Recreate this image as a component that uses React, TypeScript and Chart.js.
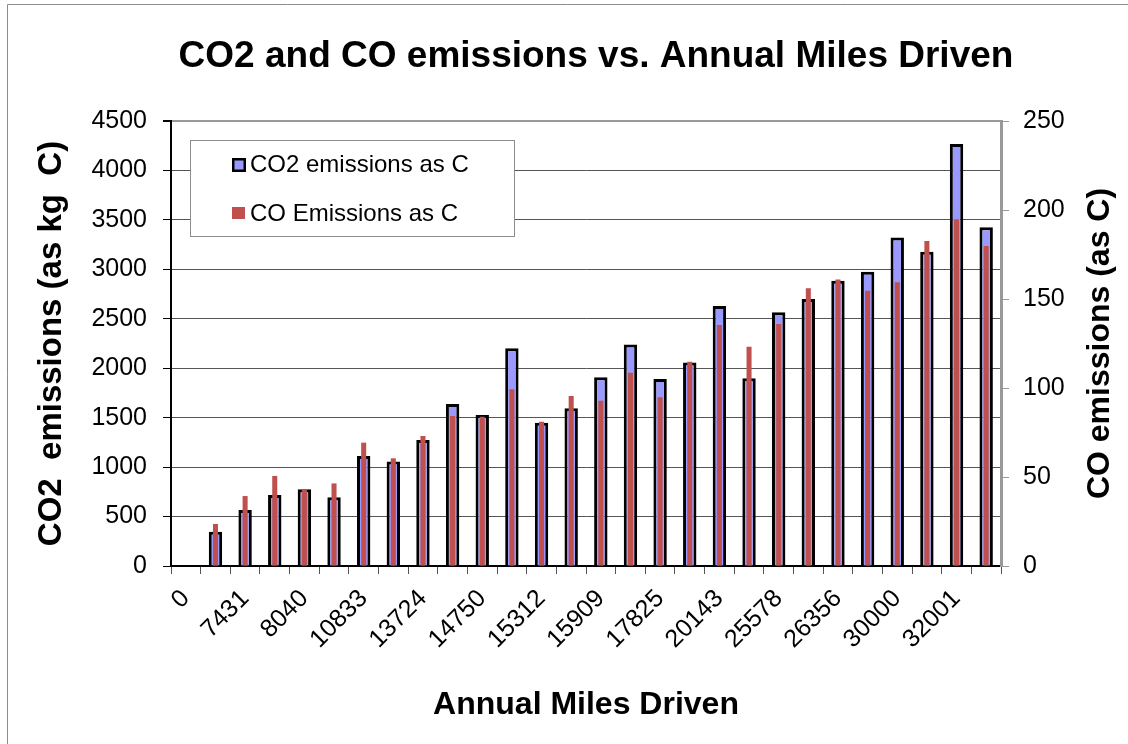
import React, { useEffect, useRef } from "react";
import { Chart, registerables } from "chart.js";

Chart.register(...registerables);

// ---- data ----
const categories = [
  "0", "", "7431", "", "8040", "", "10833", "", "13724", "", "14750", "", "15312", "", "15909", "",
  "17825", "", "20143", "", "25578", "", "26356", "", "30000", "", "32001", "",
];
const co2Values = [
  0, 347, 566, 718, 775, 694, 1112, 1058, 1274, 1638, 1527, 2201, 1449, 1594, 1908, 2241,
  1891, 2059, 2629, 1898, 2565, 2700, 2885, 2976, 3323, 3178, 4267, 3425,
];
const coValues = [
  0, 23.6, 39.3, 50.6, 42.7, 46.4, 69.3, 60.5, 73, 84.3, 83.9, 99.3, 81.1, 95.5, 92.9, 108.6,
  94.8, 114.8, 135.4, 123.2, 136, 156, 161, 154.7, 159.4, 182.6, 194.8, 179.8,
];
const leftAxisMax = 4500;
const leftAxisStep = 500;
const rightAxisMax = 250;
const rightAxisStep = 50;

const chartTitle = "CO2 and CO emissions vs. Annual Miles Driven";
const xTitle = "Annual Miles Driven";
const leftTitle = "CO2  emissions (as kg  C)";
const rightTitle = "CO emissions (as C)";
const co2Label = "CO2 emissions as C";
const coLabel = "CO Emissions as C";

const FONT = '"Liberation Sans", Arial, Helvetica, sans-serif';
const BLUE = "#9999FF";
const RED = "#C0504D";

const decorPlugin = {
  id: "decor",
  beforeDraw(chart: any) {
    const ctx = chart.ctx;
    ctx.save();
    ctx.fillStyle = "#ffffff";
    ctx.fillRect(0, 0, chart.width, chart.height);
    ctx.strokeStyle = "#8c8c8c";
    ctx.lineWidth = 1;
    ctx.beginPath();
    ctx.moveTo(7.5, chart.height);
    ctx.lineTo(7.5, 4.5);
    ctx.lineTo(chart.width, 4.5);
    ctx.stroke();
    ctx.restore();
  },
  afterDraw(chart: any) {
    const ctx = chart.ctx;
    const area = chart.chartArea;
    ctx.save();
    // main title
    ctx.fillStyle = "#000";
    ctx.font = `bold 37px ${FONT}`;
    ctx.textAlign = "center";
    ctx.textBaseline = "alphabetic";
    ctx.fillText(chartTitle, 596, 67);

    // right axis title (reads bottom to top)
    ctx.save();
    ctx.translate(1100, (area.top + area.bottom) / 2);
    ctx.rotate(-Math.PI / 2);
    ctx.font = `bold 32px ${FONT}`;
    ctx.textAlign = "center";
    ctx.textBaseline = "middle";
    ctx.fillText(rightTitle, 0, 0);
    ctx.restore();

    // legend box
    const lx = 190.5, ly = 140.5, lw = 324, lh = 96;
    ctx.fillStyle = "#fff";
    ctx.fillRect(lx, ly, lw, lh);
    ctx.strokeStyle = "#8c8c8c";
    ctx.lineWidth = 1;
    ctx.strokeRect(lx, ly, lw, lh);
    // CO2 marker
    ctx.fillStyle = "#000";
    ctx.fillRect(232, 158, 14, 14);
    ctx.fillStyle = BLUE;
    ctx.fillRect(234.5, 160.5, 9, 9);
    // CO marker
    ctx.fillStyle = RED;
    ctx.fillRect(232, 207, 13, 12);
    ctx.fillStyle = "#000";
    ctx.font = `24px ${FONT}`;
    ctx.textAlign = "left";
    ctx.textBaseline = "alphabetic";
    ctx.fillText(co2Label, 250, 172);
    ctx.fillText(coLabel, 250, 221);
    ctx.restore();
  },
};

export default function App() {
  const canvasRef = useRef<HTMLCanvasElement | null>(null);

  useEffect(() => {
    const canvas = canvasRef.current;
    if (!canvas) return;
    const chart = new Chart(canvas, {
      type: "bar",
      data: {
        labels: categories,
        datasets: [
          {
            label: coLabel,
            data: coValues,
            yAxisID: "y1",
            backgroundColor: RED,
            borderWidth: 0,
            grouped: false,
            categoryPercentage: 1,
            barPercentage: 0.17,
            order: 0,
          },
          {
            label: co2Label,
            data: co2Values,
            yAxisID: "y",
            backgroundColor: BLUE,
            borderColor: "#000",
            borderWidth: 3,
            grouped: false,
            categoryPercentage: 1,
            barPercentage: 0.452,
            order: 1,
          },
        ],
      },
      options: {
        responsive: false,
        animation: false,
        devicePixelRatio: 1,
        layout: { padding: { top: 121, left: 0, right: 0, bottom: 0 } },
        plugins: {
          legend: { display: false },
          title: { display: false },
          tooltip: { enabled: false },
        },
        scales: {
          x: {
            offset: true,
            grid: {
              display: true,
              drawOnChartArea: false,
              drawTicks: true,
              tickLength: 8,
              color: "#555",
              offset: true,
            },
            border: { display: true, color: "#000", width: 2 },
            ticks: {
              autoSkip: false,
              maxRotation: 45,
              minRotation: 45,
              padding: 10,
              color: "#000",
              font: { family: FONT, size: 25 },
            },
            title: {
              display: true,
              text: xTitle,
              color: "#000",
              font: { family: FONT, size: 32, weight: "bold" },
              padding: { top: 0, bottom: 20 },
            },
            afterFit(scale: any) {
              scale.height = 178;
            },
          },
          y: {
            position: "left",
            min: 0,
            max: leftAxisMax,
            ticks: {
              stepSize: leftAxisStep,
              padding: 16,
              color: "#000",
              font: { family: FONT, size: 25 },
              callback: (v: any) => String(v),
            },
            grid: {
              color: (c: any) => (c.tick && c.tick.value === leftAxisMax ? "#999" : "#555"),
              lineWidth: (c: any) => (c.tick && c.tick.value === leftAxisMax ? 2 : 1),
              tickColor: "#000",
              tickLength: 8,
            },
            border: { display: true, color: "#000", width: 2 },
            title: {
              display: true,
              text: leftTitle,
              color: "#000",
              font: { family: FONT, size: 33, weight: "bold" },
              padding: { top: 32, bottom: 0 },
            },
            afterFit(scale: any) {
              scale.width = 171;
            },
          },
          y1: {
            position: "right",
            min: 0,
            max: rightAxisMax,
            ticks: {
              stepSize: rightAxisStep,
              padding: 14,
              color: "#000",
              font: { family: FONT, size: 25 },
              callback: (v: any) => String(v),
            },
            grid: {
              drawOnChartArea: false,
              drawTicks: true,
              tickLength: 8,
              color: "#999",
              tickColor: "#999",
            },
            border: { display: true, color: "#999", width: 3 },
            afterFit(scale: any) {
              scale.width = 127;
            },
          },
        },
      },
      plugins: [decorPlugin],
    });
    return () => chart.destroy();
  }, []);

  return (
    <div style={{ position: "absolute", left: 0, top: 0, width: 1128, height: 744 }}>
      <canvas ref={canvasRef} width={1128} height={744} style={{ display: "block" }} />
    </div>
  );
}
